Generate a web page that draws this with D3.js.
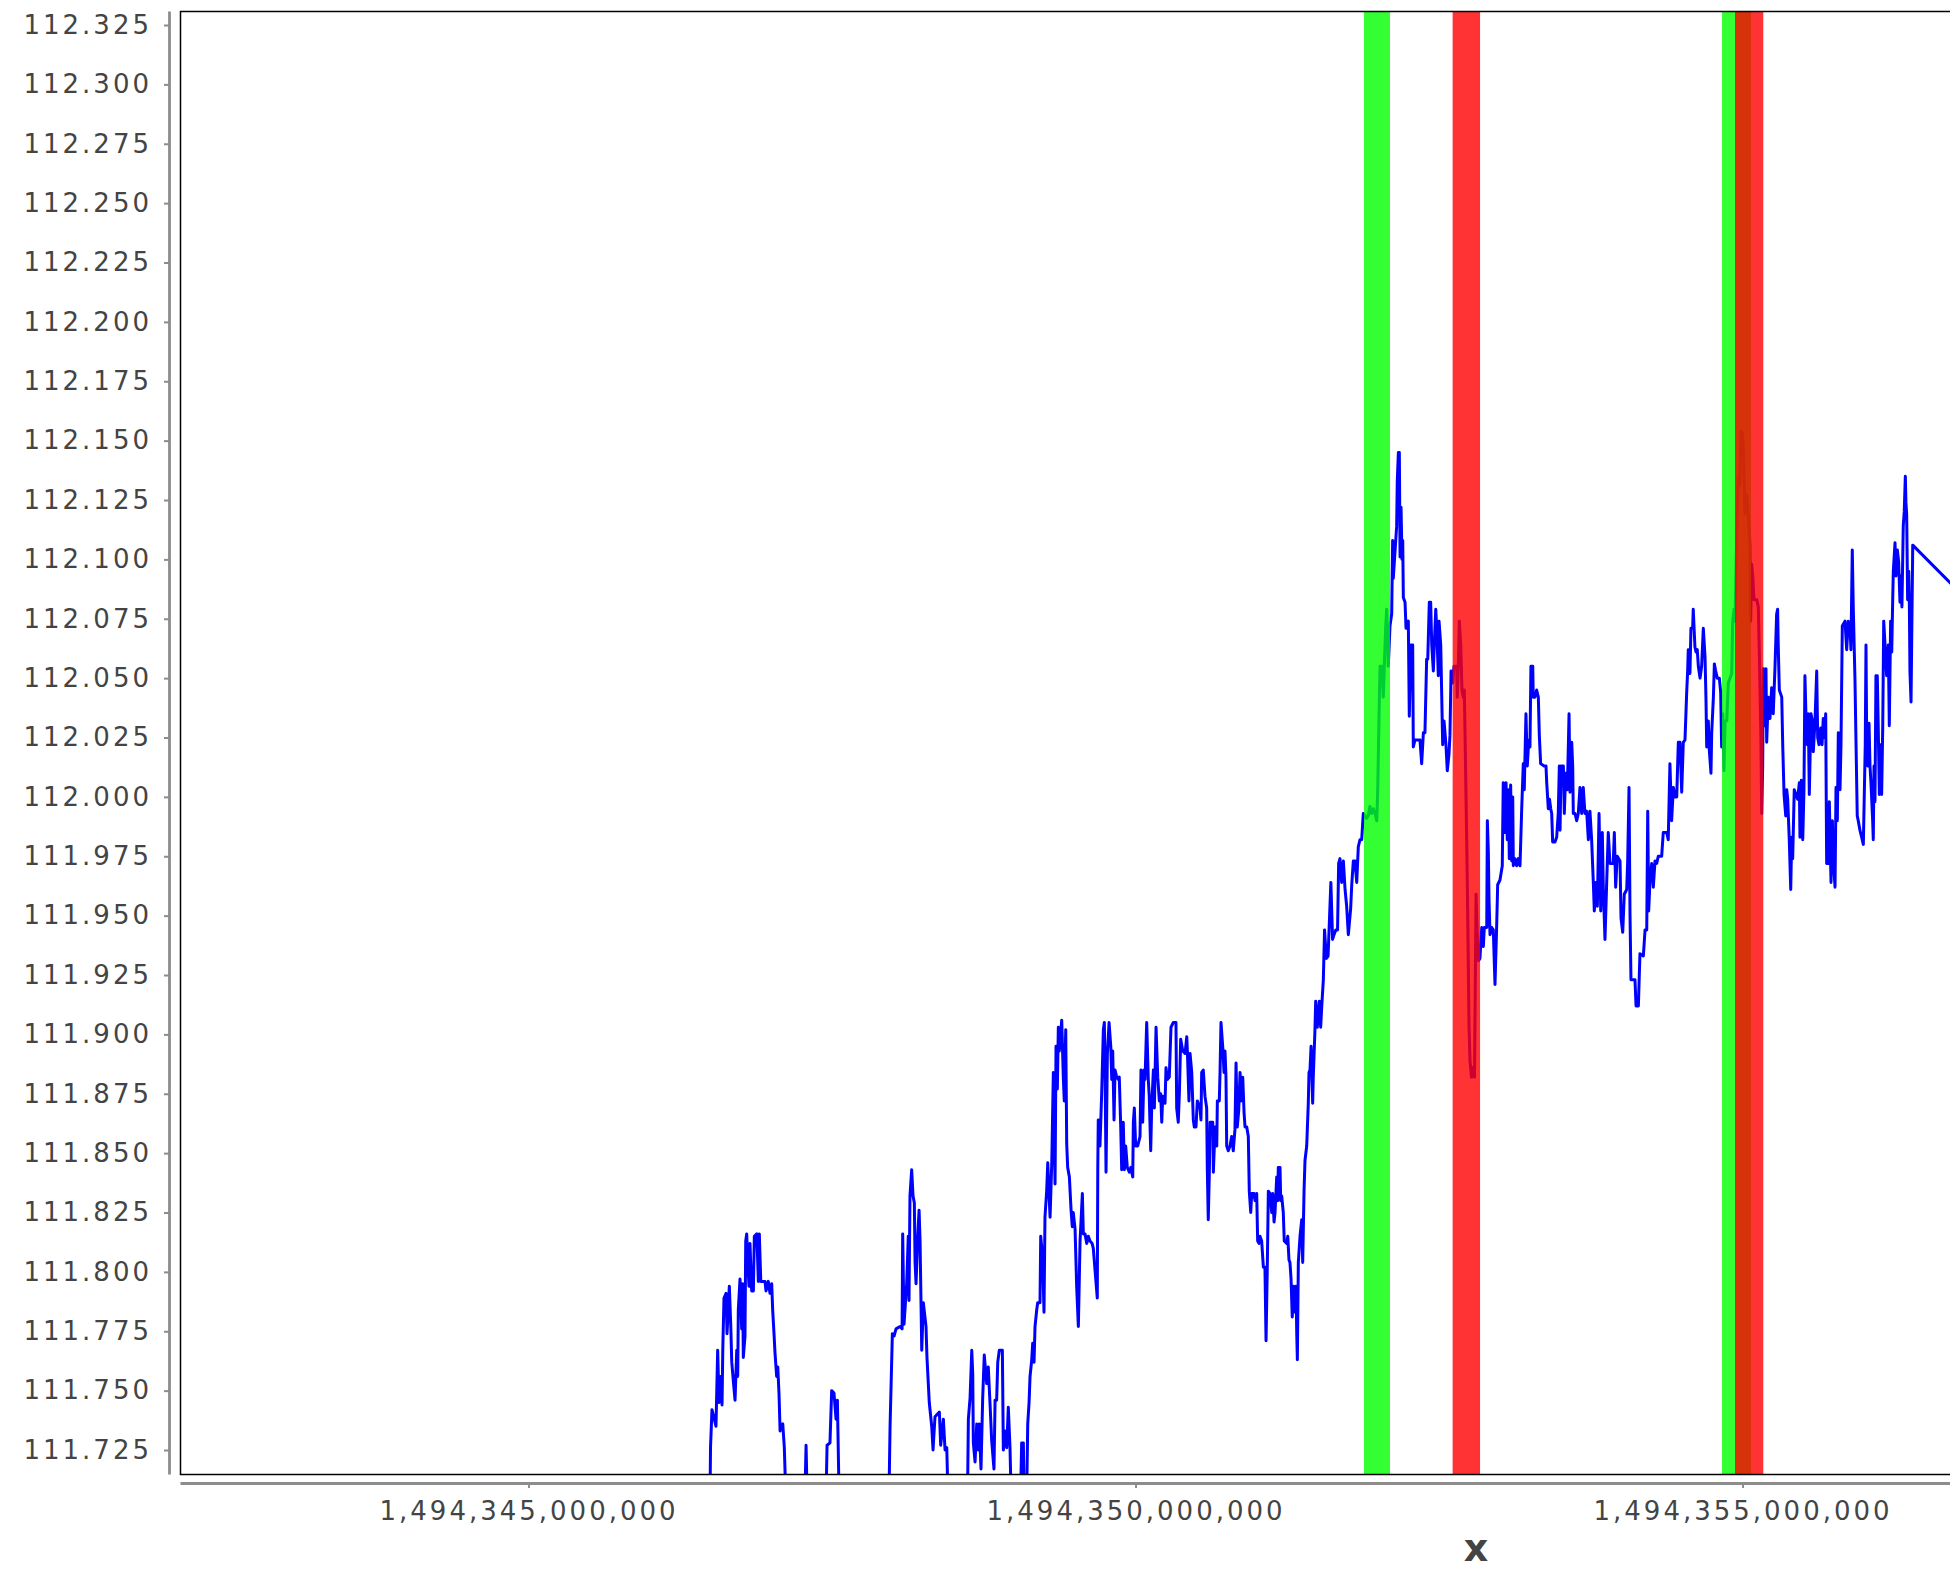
<!DOCTYPE html>
<html>
<head>
<meta charset="utf-8">
<script src="https://cdn.jsdelivr.net/npm/d3@7"></script>
<style>
  html, body { margin: 0; padding: 0; background: #ffffff; }
  svg { display: block; }
</style>
</head>
<body>
<svg id="chart" width="1950" height="1578"></svg>
<script>
// ---------------- DATA ----------------
// time base in epoch milliseconds; tOffSec are seconds after this base
const T_BASE_MS = 1494345000000;

const tOffSec = [
1495,1499,1511,1544,1558,1569,1583,1594,1600,1610,1627,1635,1654,1666,1674,1687,1701,1715,1723,1728,
1742,1756,1764,1769,1783,1789,1797,1806,1816,1824,1838,1852,1860,1880,1888,1893,1901,1913,1948,1956,
1975,1989,2003,2011,2022,2030,2044,2053,2063,2072,2094,2107,2119,2278,2286,2294,2451,2459,2483,2497,
2516,2533,2544,2558,2969,2978,2997,3011,3027,3060,3077,3082,3093,3115,3128,3134,3142,3156,3167,3178,
3184,3192,3206,3217,3225,3239,3252,3274,3282,3301,3321,3332,3348,3384,3395,3417,3431,3445,3455,3616,
3623,3637,3651,3659,3664,3678,3692,3705,3713,3727,3741,3754,3774,3787,3801,3815,3834,3843,3856,3865,
3878,3903,3911,3925,3939,3952,3966,3974,4054,4062,4076,4081,4104,4112,4123,4131,4145,4153,4164,4172,
4186,4194,4213,4219,4235,4246,4254,4268,4277,4296,4310,4323,4337,4345,4356,4364,4372,4392,4405,4413,
4425,4433,4441,4455,4469,4479,4487,4502,4515,4529,4543,4562,4570,4584,4598,4611,4625,4642,4652,4666,
4685,4689,4693,4707,4721,4735,4743,4749,4757,4768,4782,4796,4804,4812,4823,4831,4845,4858,4866,4878,
4886,4899,4908,4919,4932,4949,4961,4977,4982,4990,5001,5018,5037,5045,5059,5070,5078,5092,5105,5113,
5125,5133,5147,5155,5169,5183,5196,5207,5216,5224,5243,5251,5262,5278,5292,5311,5333,5339,5352,5361,
5372,5389,5408,5422,5427,5440,5449,5463,5476,5484,5498,5509,5531,5539,5545,5558,5572,5586,5591,5599,
5608,5614,5636,5641,5655,5669,5674,5690,5696,5704,5718,5729,5737,5745,5751,5764,5778,5792,5805,5819,
5828,5838,5850,5861,5869,5883,5894,5902,5916,5929,5937,5949,5957,5976,5984,5998,6006,6017,6025,6039,
6053,6066,6075,6085,6094,6108,6122,6130,6141,6149,6163,6171,6176,6190,6196,6204,6217,6225,6245,6254,
6264,6272,6281,6291,6300,6314,6322,6328,6333,6341,6355,6369,6377,6388,6396,6410,6423,6429,6437,6446,
6459,6464,6478,6484,6497,6514,6525,6534,6547,6557,6572,6586,6609,6623,6635,6650,6664,6673,6684,6698,
6712,6726,6739,6753,6772,6781,6794,6808,6822,6835,6849,6863,6876,6890,6904,6917,6931,6945,6959,6973,
6987,6995,7006,7014,7028,7041,7049,7061,7069,7082,7096,7110,7118,7123,7137,7151,7156,7165,7173,7179,
7187,7195,7201,7206,7220,7228,7247,7255,7269,7283,7288,7302,7329,7343,7357,7371,7384,7398,7407,7420,
7431,7440,7453,7461,7473,7481,7494,7500,7514,7522,7530,7541,7557,7568,7582,7590,7599,7613,7623,7646,
7650,7659,7667,7679,7689,7700,7708,7716,7728,7736,7747,7755,7767,7780,7792,7805,7813,7825,7837,7852,
7865,7873,7893,7898,7906,7912,7920,7934,7947,7961,7975,7983,8002,8021,8029,8043,8052,8062,8071,8079,
8090,8099,8107,8112,8126,8140,8153,8167,8181,8194,8202,8216,8227,8239,8249,8257,8272,8276,8290,8304,
8318,8326,8337,8365,8381,8387,8400,8410,8420,8428,8436,8455,8469,8482,8491,8497,8505,8524,8532,8543,
8557,8571,8579,8593,8601,8606,8620,8634,8647,8661,8675,8688,8702,8716,8730,8743,8757,8771,8779,8793,
8804,8818,8832,8845,8853,8867,8881,8894,8908,8935,8944,8955,8968,8991,8999,9013,9026,9046,9054,9065,
9073,9081,9114,9123,9142,9155,9183,9197,9211,9219,9227,9238,9252,9265,9279,9293,9306,9334,9347,9375,
9388,9402,9416,9430,9444,9458,9471,9485,9499,9512,9526,9540,9548,9553,9567,9575,9589,9594,9608,9617,
9627,9636,9650,9663,9677,9691,9699,9705,9718,9726,9740,9746,9760,9768,9779,9792,9809,9820,9828,9837,
9847,9856,9870,9883,9897,9911,9919,9930,9938,9952,9965,9977,9987,9998,10006,10020,10034,10048,10061,10067,
10075,10084,10094,10117,10130,10138,10150,10158,10166,10171,10185,10193,10199,10212,10226,10240,10253,10267,10281,10289,
10294,10303,10323,10331,10342,10356,10364,10372,10385,10397,10405,10413,10426,10454,10468,10473,10484,10496,10506,10514,
10523,10533,10542,10550,10564,10575,10583,10597,10611,10619,10630,10644,10655,10665,10674,10685,10693,10707,10715,10729,
10740,10748,10762,10770,10781,10789,10803,10811,10822,10844,10858,10871,10885,10893,10904,10912,10926,10935,10945,10953,
10967,10981,10995,11003,11011,11017,11023,11031,11042,11050,11058,11072,11077,11083,11091,11099,11110,11118,11127,11138,
11146,11155,11163,11174,11187,11201,11209,11220,11229,11237,11242,11256,11264,11275,11286,11297,11305,11313,11324,11332,
11341,11346,11352,11360,11369,11374,11379,11388,11393,11402,12532
];

const price = [
111.705,111.726,111.742,111.735,111.767,111.745,111.756,111.744,111.767,111.789,111.791,111.774,111.794,111.777,111.762,111.754,111.746,111.767,111.756,111.784,
111.797,111.776,111.795,111.764,111.773,111.813,111.816,111.804,111.794,111.812,111.792,111.792,111.815,111.816,111.804,111.796,111.816,111.796,111.796,111.792,
111.796,111.791,111.795,111.784,111.774,111.766,111.756,111.760,111.749,111.733,111.736,111.726,111.706,111.708,111.727,111.708,111.706,111.727,111.728,111.750,
111.749,111.738,111.746,111.706,111.705,111.735,111.774,111.773,111.776,111.777,111.776,111.816,111.778,111.795,111.815,111.788,111.832,111.843,111.832,111.829,
111.804,111.795,111.815,111.826,111.813,111.767,111.787,111.777,111.764,111.745,111.735,111.725,111.739,111.741,111.727,111.738,111.725,111.726,111.706,111.705,
111.738,111.747,111.767,111.757,111.728,111.720,111.736,111.725,111.736,111.717,111.747,111.765,111.753,111.760,111.745,111.729,111.717,111.746,111.746,111.762,
111.767,111.767,111.725,111.733,111.726,111.743,111.726,111.708,111.708,111.728,111.728,111.709,111.708,111.736,111.745,111.756,111.763,111.770,111.762,111.777,
111.784,111.787,111.787,111.815,111.806,111.783,111.823,111.834,111.846,111.823,111.846,111.884,111.837,111.895,111.877,111.903,111.893,111.906,111.882,111.872,
111.902,111.854,111.844,111.840,111.826,111.819,111.825,111.818,111.794,111.777,111.813,111.833,111.816,111.816,111.812,111.815,111.813,111.812,111.810,111.801,
111.789,111.843,111.864,111.853,111.875,111.902,111.905,111.884,111.842,111.892,111.905,111.895,111.881,111.893,111.864,111.885,111.882,111.881,111.882,111.861,
111.843,111.863,111.843,111.853,111.844,111.842,111.844,111.840,111.863,111.869,111.853,111.853,111.857,111.885,111.863,111.885,111.881,111.905,111.881,111.874,
111.851,111.869,111.885,111.869,111.903,111.882,111.872,111.875,111.863,111.874,111.871,111.886,111.881,111.882,111.903,111.905,111.905,111.869,111.863,111.875,
111.898,111.893,111.892,111.899,111.893,111.872,111.892,111.884,111.864,111.861,111.861,111.872,111.869,111.864,111.884,111.885,111.874,111.869,111.844,111.822,
111.842,111.863,111.863,111.842,111.861,111.853,111.872,111.872,111.884,111.905,111.895,111.884,111.893,111.882,111.853,111.851,111.853,111.857,111.851,111.860,
111.888,111.861,111.868,111.884,111.872,111.882,111.867,111.861,111.861,111.857,111.834,111.825,111.833,111.833,111.830,111.833,111.813,111.812,111.815,111.813,
111.802,111.802,111.771,111.801,111.834,111.833,111.825,111.833,111.821,111.825,111.840,111.830,111.844,111.844,111.830,111.832,111.825,111.813,111.812,111.815,
111.805,111.804,111.797,111.781,111.794,111.783,111.794,111.774,111.763,111.804,111.815,111.822,111.804,111.834,111.847,111.853,111.871,111.884,111.885,111.895,
111.871,111.882,111.902,111.914,111.903,111.914,111.903,111.912,111.923,111.944,111.932,111.933,111.964,111.940,111.942,111.944,111.944,111.972,111.974,111.964,
111.973,111.961,111.954,111.942,111.953,111.963,111.973,111.973,111.964,111.979,111.982,111.982,111.993,111.992,111.991,111.992,111.996,111.993,111.995,111.993,
111.990,112.003,112.035,112.055,112.055,112.042,112.055,112.072,112.079,112.055,112.072,112.077,112.108,112.092,112.103,112.114,112.133,112.145,112.145,112.101,
112.122,112.100,112.108,112.084,112.082,112.071,112.074,112.034,112.064,112.064,112.021,112.024,112.024,112.024,112.014,112.027,112.027,112.058,112.058,112.082,
112.082,112.064,112.053,112.064,112.079,112.071,112.051,112.074,112.064,112.043,112.022,112.032,112.022,112.011,112.018,112.026,112.053,112.048,112.055,112.055,
112.042,112.055,112.074,112.064,112.045,112.042,112.045,112.021,111.981,111.952,111.903,111.889,111.882,111.886,111.882,111.959,111.944,111.931,111.932,111.945,
111.937,111.945,111.945,111.990,111.977,111.956,111.942,111.945,111.944,111.921,111.946,111.963,111.965,111.971,112.006,111.985,112.006,111.982,112.003,111.974,
112.005,111.973,112.000,111.971,111.974,111.971,111.974,111.971,111.995,112.014,112.003,112.035,112.013,112.024,112.021,112.055,112.055,112.042,112.042,112.045,
112.042,112.026,112.014,112.013,112.013,112.006,111.995,111.999,111.995,111.993,111.981,111.981,111.983,111.993,112.013,111.986,112.013,112.013,111.993,112.010,
112.003,112.035,112.002,112.023,112.013,111.993,111.993,111.990,111.993,112.004,111.993,112.004,111.993,111.994,111.982,111.994,111.982,111.964,111.952,111.964,
111.954,111.993,111.952,111.985,111.962,111.940,111.964,111.985,111.972,111.972,111.985,111.962,111.975,111.973,111.949,111.943,111.959,111.961,111.973,112.004,
111.951,111.923,111.923,111.912,111.912,111.934,111.933,111.944,111.944,111.994,111.952,111.965,111.972,111.962,111.973,111.972,111.975,111.975,111.985,111.985,
111.982,112.014,111.990,112.004,112.000,112.000,112.023,112.023,112.002,112.023,112.024,112.044,112.053,112.062,112.052,112.071,112.071,112.079,112.063,112.061,
112.062,112.055,112.050,112.055,112.071,112.059,112.041,112.021,112.032,112.020,112.010,112.027,112.042,112.056,112.053,112.050,112.050,112.044,112.021,112.035,
112.011,112.032,112.032,112.048,112.050,112.052,112.074,112.079,112.074,112.111,112.135,112.131,112.154,112.153,112.148,112.119,112.127,112.119,112.106,112.074,
112.098,112.093,112.083,112.083,112.080,112.061,112.029,111.993,112.013,112.054,112.030,112.054,112.023,112.042,112.033,112.046,112.035,112.054,112.077,112.079,
112.064,112.045,112.042,112.022,112.001,111.992,112.003,111.999,111.982,111.961,111.983,111.974,112.003,111.999,112.006,111.983,112.007,111.982,112.003,112.051,
112.033,112.022,112.035,112.001,112.035,112.032,112.019,112.032,112.053,112.025,112.022,112.029,112.022,112.033,112.025,112.035,111.972,111.972,111.998,111.964,
111.990,111.974,111.962,112.004,111.990,112.027,112.003,112.022,112.072,112.074,112.062,112.074,112.072,112.062,112.104,112.080,112.050,112.022,111.992,111.990,
111.986,111.983,111.980,112.001,112.022,112.064,112.022,112.013,112.031,112.013,112.006,111.990,111.982,112.013,111.998,112.051,112.051,112.029,112.001,112.022,
112.001,112.030,112.074,112.064,112.051,112.064,112.030,112.074,112.061,112.083,112.095,112.107,112.093,112.104,112.099,112.082,112.093,112.080,112.114,112.120,
112.135,112.124,112.119,112.083,112.095,112.082,112.053,112.040,112.064,112.106,112.048
];

// signal windows (seconds after T_BASE_MS)
const signalStartSec = [6882, 7612, 9831, 9938];
const signalEndSec   = [7096, 7838, 10070, 10171];
const signalType     = ["buy", "sell", "buy", "sell"];

// axes
const xDomainMs   = [1494342129000, 1494363480000];
const yDomain     = [111.7149, 112.3309];
const xTickValues = [1494345000000, 1494350000000, 1494355000000];
const yTickValues = [111.725, 111.750, 111.775, 111.800, 111.825, 111.850, 111.875, 111.900,
                     111.925, 111.950, 111.975, 112.000, 112.025, 112.050, 112.075, 112.100,
                     112.125, 112.150, 112.175, 112.200, 112.225, 112.250, 112.275, 112.300, 112.325];
const xTitle = "x";

// ---------------- DRAW ----------------
const W = 1950, H = 1578;
const plot = { left: 180, top: 11, right: 2772, bottom: 1474 };
const FONT = "'DejaVu Sans', Verdana, sans-serif";
const TEXT_COLOR = "#444444";
const AXIS_COLOR = "#8c8c8c";

const svg = d3.select("#chart");
svg.append("rect").attr("width", W).attr("height", H).attr("fill", "#ffffff");

const x = d3.scaleLinear().domain(xDomainMs).range([plot.left, plot.right]);
const y = d3.scaleLinear().domain(yDomain).range([plot.bottom, plot.top]);

const defs = svg.append("defs");
defs.append("clipPath").attr("id", "plotClip")
  .append("rect")
  .attr("x", plot.left).attr("y", plot.top)
  .attr("width", plot.right - plot.left).attr("height", plot.bottom - plot.top);

const data = tOffSec.map((t, i) => ({ t: T_BASE_MS + t * 1000, p: price[i] }));

const plotG = svg.append("g").attr("clip-path", "url(#plotClip)");

// price line
const line = d3.line().x(d => x(d.t)).y(d => y(d.p));
plotG.append("path")
  .datum(data)
  .attr("d", line)
  .attr("fill", "none")
  .attr("stroke", "#0000ff")
  .attr("stroke-width", 3)
  .attr("stroke-linejoin", "round");

// signal bands drawn on top, semi-transparent
const bands = signalStartSec.map((s, i) => ({
  s: T_BASE_MS + s * 1000, e: T_BASE_MS + signalEndSec[i] * 1000, type: signalType[i]
}));
plotG.selectAll("rect.band")
  .data(bands)
  .enter().append("rect")
  .attr("class", "band")
  .attr("x", d => x(d.s))
  .attr("width", d => x(d.e) - x(d.s))
  .attr("y", plot.top)
  .attr("height", plot.bottom - plot.top)
  .attr("fill", d => d.type === "buy" ? "rgb(0,255,0)" : "rgb(255,0,0)")
  .attr("fill-opacity", 0.8);

// plot border
svg.append("rect")
  .attr("x", plot.left + 0.5).attr("y", plot.top + 0.5)
  .attr("width", plot.right - plot.left).attr("height", plot.bottom - plot.top)
  .attr("fill", "none").attr("stroke", "#000000").attr("stroke-width", 1.5);

// Y axis
const yAxisX = 169;
const yAxis = d3.axisLeft(y)
  .tickValues(yTickValues)
  .tickFormat(d3.format(".3f"))
  .tickSize(5)
  .tickSizeOuter(0)
  .tickPadding(12);
const gy = svg.append("g").attr("transform", `translate(${yAxisX},0)`).call(yAxis);
gy.select(".domain").attr("stroke", AXIS_COLOR).attr("stroke-width", 2.8);
gy.selectAll(".tick line").attr("stroke", AXIS_COLOR).attr("stroke-width", 2);
gy.selectAll(".tick text")
  .attr("fill", TEXT_COLOR)
  .style("font-family", FONT)
  .style("font-size", "26px")
  .style("letter-spacing", "3px");

// X axis
const xAxisY = 1483;
const xAxis = d3.axisBottom(x)
  .tickValues(xTickValues)
  .tickFormat(d3.format(",.0f"))
  .tickSize(5)
  .tickSizeOuter(0);
const gx = svg.append("g").attr("transform", `translate(0,${xAxisY})`).call(xAxis);
gx.select(".domain").attr("stroke", AXIS_COLOR).attr("stroke-width", 2.8);
gx.selectAll(".tick line").attr("stroke", AXIS_COLOR).attr("stroke-width", 2);
gx.selectAll(".tick text")
  .attr("fill", TEXT_COLOR)
  .attr("y", 37)
  .attr("dy", "0")
  .style("font-family", FONT)
  .style("font-size", "26px")
  .style("letter-spacing", "3px");

// X title
svg.append("text")
  .attr("x", (plot.left + plot.right) / 2)
  .attr("y", 1561)
  .attr("text-anchor", "middle")
  .attr("fill", TEXT_COLOR)
  .style("font-family", FONT)
  .style("font-weight", "bold")
  .style("font-size", "38px")
  .text(xTitle);
</script>
</body>
</html>
